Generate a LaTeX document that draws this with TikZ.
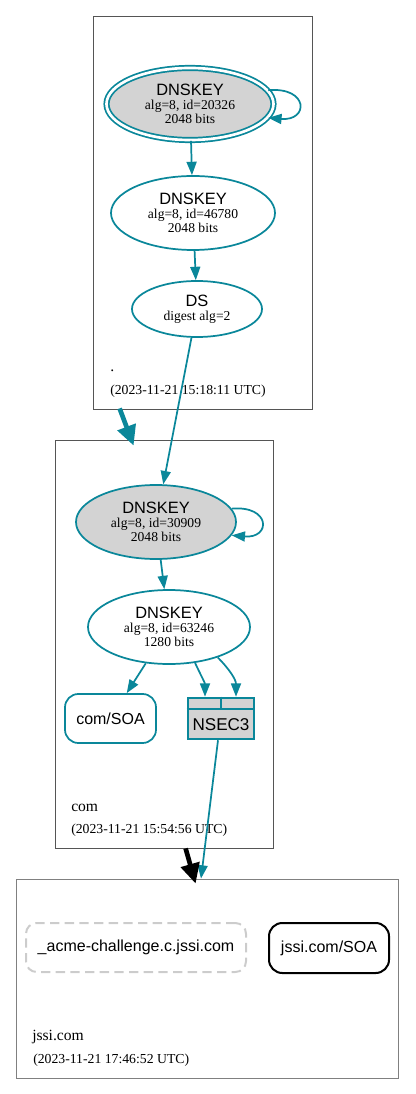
\documentclass[tikz,border=0pt]{standalone}
\usepackage{fontspec}
\setmainfont{Liberation Serif}
\setsansfont{Liberation Sans}
\usetikzlibrary{shapes,arrows.meta,positioning,calc}
\definecolor{secure}{HTML}{0A879A}
\definecolor{keyfill}{HTML}{D3D3D3}
\definecolor{zoneline}{HTML}{555555}
\definecolor{nxline}{HTML}{CCCCCC}
\newcommand{\keytxt}[2]{{\sffamily\fontsize{12.3}{12}\selectfont DNSKEY}\\[1.5pt]alg=8, id=#1\\#2 bits}

\begin{document}
\begin{tikzpicture}[x=0.75pt, y=-0.75pt,
  key/.style={ellipse, draw=secure, line width=1.3pt, inner sep=0pt, align=center,
    font=\fontsize{10.2}{9}\selectfont},
  ksk/.style={key, fill=keyfill},
  rrset/.style={rectangle, rounded corners=10pt, draw=secure, line width=1.3pt, inner sep=0pt,
    font=\sffamily\fontsize{12}{14}\selectfont},
  zone/.style={rectangle, draw=zoneline, line width=0.6pt, inner sep=0pt},
  zonelabel/.style={anchor=base west, inner sep=0pt, font=\fontsize{11.7}{12}\selectfont},
  zonedate/.style={anchor=base west, inner sep=0pt, font=\fontsize{10.3}{12}\selectfont},
  edge/.style={-{Triangle[length=10pt, width=7.5pt]}, secure, line width=1.3pt},
  zonearr/.style={-{Triangle[length=15pt, width=14pt]}, line width=3.5pt}
]
  \useasboundingbox (0,0) rectangle (415,1094);

  % zones
  \node[zone, minimum width=164.25pt, minimum height=294.75pt] (root) at (202.5,212.5) {};
  \node[zone, minimum width=163.5pt, minimum height=306pt] (com) at (164,644) {};
  \node[zone, draw=gray, minimum width=286.5pt, minimum height=149.25pt] (jssi) at (207,978.5) {};

  \node[zonelabel] (rootname) at (110,372) {.};
  \node[zonedate] (rootdate) at (110,394) {(2023-11-21 15:18:11 UTC)};
  \node[zonelabel] (comname) at (71,811) {com};
  \node[zonedate] (comdate) at (71,833) {(2023-11-21 15:54:56 UTC)};
  \node[zonelabel] (jssiname) at (32,1040) {jssi.com};
  \node[zonedate] (jssidate) at (33,1063) {(2023-11-21 17:46:52 UTC)};

  % root zone
  \node[ksk, double=white, double distance=2pt, minimum width=125.25pt, minimum height=54pt]
    (k20326) at (190,104) {\keytxt{20326}{2048}};
  \node[key, minimum width=123pt, minimum height=55.5pt] (k46780) at (193,213) {\keytxt{46780}{2048}};
  \node[key, minimum width=97.5pt, minimum height=42pt] (ds) at (197,309)
    {{\sffamily\fontsize{12.3}{12}\selectfont DS}\\[1.5pt]digest alg=2};

  % com zone
  \node[ksk, minimum width=120pt, minimum height=55.5pt] (k30909) at (156,522) {\keytxt{30909}{2048}};
  \node[key, minimum width=121.5pt, minimum height=55.5pt] (k63246) at (169,627) {\keytxt{63246}{1280}};
  \node[rrset, minimum width=68.25pt, minimum height=36.75pt] (comsoa) at (110.5,718.5) {com/SOA};
  \node[rectangle, draw=secure, fill=keyfill, line width=1.9pt, inner sep=0pt,
    minimum width=49.5pt, minimum height=30.75pt] (nsec3) at (221,718.5) {};
  \node[font=\sffamily\fontsize{12.8}{14}\selectfont, inner sep=0pt] (nsec3txt) at (221,725) {NSEC3};
  \draw[secure, line width=1.5pt] ($(nsec3.north west)+(0,12)$) -- ($(nsec3.north east)+(0,12)$);
  \draw[secure, line width=1.5pt] (nsec3.north) -- ++(0,12);
  \coordinate (nsecl) at ($(nsec3.north)+(-16,0)$);
  \coordinate (nsecr) at ($(nsec3.north)+(15,0)$);

  % jssi.com zone
  \node[rrset, draw=nxline, dashed, dash pattern=on 7pt off 4pt, line width=1.5pt, rounded corners=8pt,
    minimum width=165pt, minimum height=36.75pt] (acme) at (136,947.5) {\_acme-challenge.c.jssi.com};
  \node[rrset, draw=black, line width=1.5pt, minimum width=90pt, minimum height=37.5pt]
    (jssisoa) at (329,948) {jssi.com/SOA};

  % edges
  \draw[edge] (k20326.10) to[out=5, in=-5, looseness=3.8] (k20326.-10);
  \draw[edge] (k20326) -- (k46780);
  \draw[edge] (k46780) -- (ds);
  \draw[edge] (ds) -- (k30909);
  \draw[edge] (k30909.10) to[out=5, in=-5, looseness=3.8] (k30909.-10);
  \draw[edge] (k30909) -- (k63246);
  \draw[edge] (k63246) -- (comsoa);
  \draw[edge] (k63246.-54) to[out=-65, in=90] (nsecl);
  \draw[edge] (k63246.-32) to[out=-45, in=90] (nsecr);
  \draw[edge] ($(nsec3.south)+(-3,0)$) -- ($(jssi.north)+(-6,0)$);

  \draw[zonearr, secure] ($(root.south west)+(27,-1)$) -- ($(com.north west)+(79,6)$);
  \draw[zonearr, black] ($(com.south west)+(131,0)$) -- ($(jssi.north west)+(180,5)$);
\end{tikzpicture}
\end{document}
